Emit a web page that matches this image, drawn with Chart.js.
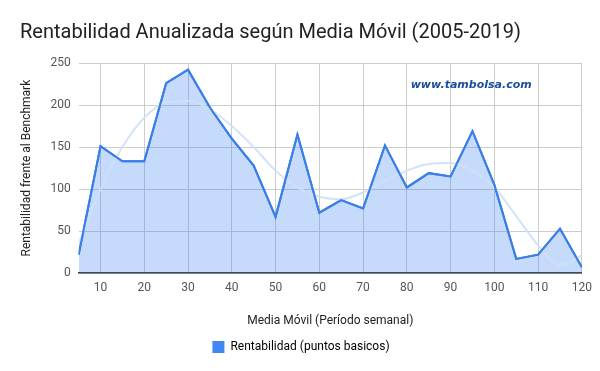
<!DOCTYPE html>
<html lang="es">
<head>
<meta charset="UTF-8">
<title>Rentabilidad Anualizada</title>
<script src="https://cdn.jsdelivr.net/npm/chart.js@4.4.0/dist/chart.umd.min.js"></script>
<style>
    body{
        margin: 0;
        background: #fff;
        font-family: Roboto, Arial, sans-serif;
    }
    #wrap{
        width: 600px;
        height: 371px;
    }
</style>
</head>
<body>
<div id="wrap"><canvas id="rentChart" width="600" height="371"></canvas></div>
<script>
// Media movil (semanas)
var periodos = [5, 10, 15, 20, 25, 30, 35, 40, 45, 50, 55, 60, 65, 70, 75, 80, 85, 90, 95, 100, 105, 110, 115, 120];
// Rentabilidad (puntos basicos)
var rentabilidad = [22, 151, 133, 133, 226, 242, 197, 160, 128, 67, 165, 72, 87, 77, 152, 102, 119, 115, 169, 105, 17, 22, 53, 7];
// linea de tendencia
var tendencia = [35, 100, 150, 185, 203, 205, 195, 175, 150, 122, 102, 91, 88, 96, 110, 122, 130, 131, 122, 102, 68, 33, 10, 21];
var xTicks = [10, 20, 30, 40, 50, 60, 70, 80, 90, 100, 110, 120];
var yTicks = [0, 50, 100, 150, 200, 250];

function pts(vals) {
    return periodos.map(function(p, i) { return {x: p, y: vals[i]}; });
}

var watermark = {
    id: 'watermark',
    afterDatasetsDraw: function(chart) {
        var c = chart.ctx;
        var a = chart.chartArea;
        c.save();
        c.font = 'italic bold 11px "DejaVu Sans", Arial, sans-serif';
        c.fillStyle = '#1a4fa0';
        c.textAlign = 'center';
        c.textBaseline = 'middle';
        c.fillText('www.tambolsa.com', a.left + (a.right - a.left) * 0.78, a.top + 22);
        c.restore();
    }
};

var ctx = document.getElementById('rentChart').getContext('2d');
var myChart = new Chart(ctx, {
    type: 'line',
    data: {
        datasets: [{
            label: 'Rentabilidad (puntos basicos)',
            data: pts(rentabilidad),
            borderColor: '#3a7ee8',
            borderWidth: 2,
            backgroundColor: 'rgba(66,133,244,0.3)',
            fill: 'origin',
            pointRadius: 0,
            tension: 0,
            order: 2
        }, {
            label: 'tendencia',
            data: pts(tendencia),
            borderColor: 'rgba(205,224,247,0.9)',
            borderWidth: 2,
            fill: false,
            pointRadius: 0,
            cubicInterpolationMode: 'monotone',
            order: 1
        }, {
            label: 'linea',
            data: pts(rentabilidad),
            borderColor: '#3a7ee8',
            borderWidth: 2,
            fill: false,
            pointRadius: 0,
            tension: 0,
            order: 0
        }]
    },
    options: {
        responsive: false,
        animation: false,
        layout: {
            padding: {left: 20, right: 18, top: 0, bottom: 8}
        },
        scales: {
            x: {
                type: 'linear',
                min: 5,
                max: 120,
                afterBuildTicks: function(scale) {
                    scale.ticks = xTicks.map(function(v) { return {value: v}; });
                },
                grid: {
                    color: '#cccccc',
                    drawTicks: false
                },
                border: {
                    color: '#333333',
                    width: 1.5
                },
                ticks: {
                    color: '#555555',
                    font: {family: 'Roboto', size: 12},
                    padding: 8,
                    maxRotation: 0
                },
                title: {
                    display: true,
                    text: 'Media Móvil (Período semanal)',
                    color: '#222222',
                    font: {family: 'Roboto', size: 12},
                    padding: {top: 10, bottom: 3}
                }
            },
            y: {
                min: 0,
                max: 250,
                afterBuildTicks: function(scale) {
                    scale.ticks = yTicks.map(function(v) { return {value: v}; });
                },
                grid: {
                    color: '#cccccc',
                    drawTicks: false
                },
                border: {
                    display: false
                },
                ticks: {
                    color: '#555555',
                    font: {family: 'Roboto', size: 12},
                    padding: 8
                },
                title: {
                    display: true,
                    text: 'Rentabilidad frente al Benchmark',
                    color: '#222222',
                    font: {family: 'Roboto', size: 12},
                    padding: {top: 0, bottom: 8}
                }
            }
        },
        plugins: {
            title: {
                display: true,
                text: 'Rentabilidad Anualizada según Media Móvil (2005-2019)',
                align: 'start',
                color: '#222222',
                font: {family: 'Roboto', size: 20, weight: 'normal'},
                padding: {top: 21, bottom: 18}
            },
            legend: {
                position: 'bottom',
                labels: {
                    color: '#555555',
                    font: {family: 'Roboto', size: 12},
                    boxWidth: 12,
                    boxHeight: 12,
                    generateLabels: function(chart) {
                        return [{
                            text: 'Rentabilidad (puntos basicos)',
                            fillStyle: '#4285f4',
                            strokeStyle: '#4285f4',
                            lineWidth: 0,
                            datasetIndex: 0
                        }];
                    }
                }
            },
            tooltip: {enabled: false}
        }
    },
    plugins: [watermark]
});
</script>
</body>
</html>
